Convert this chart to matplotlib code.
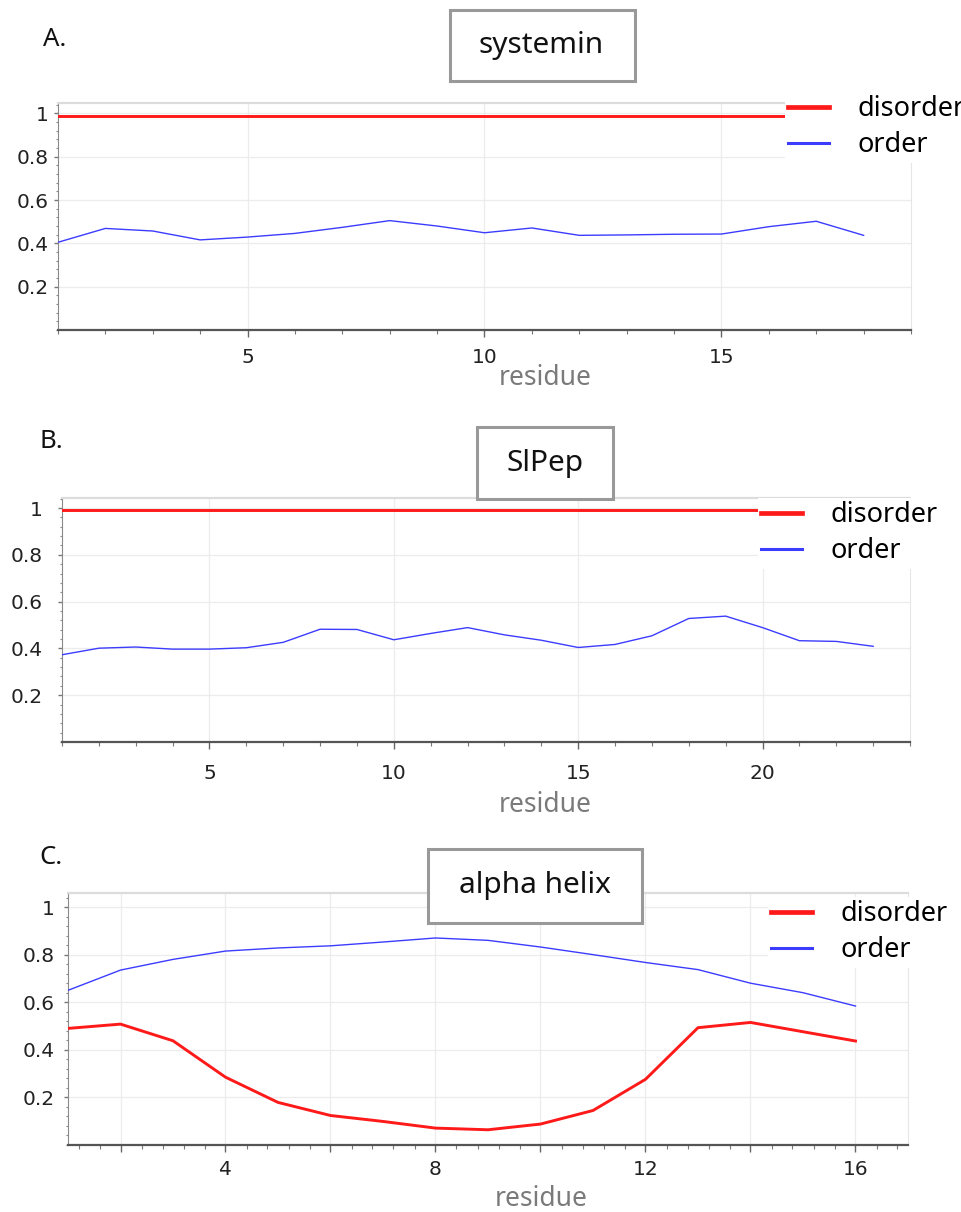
import matplotlib
matplotlib.use("Agg")
import matplotlib.pyplot as plt
import matplotlib.patches as mpatches
from matplotlib.lines import Line2D
from matplotlib.ticker import MultipleLocator, FuncFormatter

# 數據
sys_residue = [1, 2, 3, 4, 5, 6, 7, 8, 9, 10, 11, 12, 13, 14, 15, 16, 17, 18]
sys_disorder = [0.99, 0.99, 0.99, 0.99, 0.99, 0.99, 0.99, 0.99, 0.99,
                0.99, 0.99, 0.99, 0.99, 0.99, 0.99, 0.99, 0.99, 0.99]
sys_order = [0.405, 0.469, 0.457, 0.416, 0.429, 0.446, 0.474, 0.505, 0.480,
             0.449, 0.471, 0.437, 0.439, 0.442, 0.443, 0.477, 0.502, 0.437]

pep_residue = [1, 2, 3, 4, 5, 6, 7, 8, 9, 10, 11, 12, 13, 14, 15, 16, 17, 18,
               19, 20, 21, 22, 23]
pep_disorder = [0.99, 0.99, 0.99, 0.99, 0.99, 0.99, 0.99, 0.99, 0.99, 0.99,
                0.99, 0.99, 0.99, 0.99, 0.99, 0.99, 0.99, 0.99, 0.99, 0.99,
                0.99, 0.99, 0.99]
pep_order = [0.373, 0.401, 0.406, 0.397, 0.397, 0.403, 0.426, 0.482, 0.481,
             0.437, 0.464, 0.489, 0.458, 0.435, 0.404, 0.417, 0.454, 0.528,
             0.538, 0.489, 0.433, 0.430, 0.409]

helix_residue = [1, 2, 3, 4, 5, 6, 7, 8, 9, 10, 11, 12, 13, 14, 15, 16]
helix_disorder = [0.490, 0.508, 0.438, 0.285, 0.179, 0.124, 0.099, 0.071,
                  0.064, 0.088, 0.145, 0.276, 0.493, 0.515, 0.476, 0.437]
helix_order = [0.650, 0.735, 0.780, 0.815, 0.828, 0.837, 0.853, 0.870,
               0.860, 0.832, 0.800, 0.767, 0.737, 0.680, 0.640, 0.584]

series_labels = ['disorder', 'order']
y_ticks = [0.2, 0.4, 0.6, 0.8, 1.0]

RED = '#ff1a1a'
BLUE = '#3c3cff'
W, H = 962, 1212

plt.rcParams['font.family'] = ['Noto Sans', 'DejaVu Sans']


def px_rect(l, t, r, b):
    return [l / W, 1 - b / H, (r - l) / W, (b - t) / H]


def px_pt(x, y):
    return x / W, 1 - y / H


fig = plt.figure(figsize=(W / 100, H / 100), dpi=100)

panels = [
    dict(x=sys_residue, dis=sys_disorder, order=sys_order, letter='A.',
         title='systemin', rect=(58, 103, 911, 330), xlim=(1, 19), ytop=1.048,
         major=5, label_every=5, minor=1, xpad=8, ypad=4,
         letter_xy=(43, 40), box=(450, 10, 635, 81), text_xy=(541, 46),
         xlabel_xy=(545, 378), legend_xy=(785, 92)),
    dict(x=pep_residue, dis=pep_disorder, order=pep_order, letter='B.',
         title='SlPep', rect=(62, 498, 910, 742), xlim=(1, 24), ytop=1.043,
         major=5, label_every=5, minor=1, xpad=10.5, ypad=11,
         letter_xy=(39, 442), box=(477, 427, 613, 499), text_xy=(545, 463),
         xlabel_xy=(545, 805), legend_xy=(758, 498)),
    dict(x=helix_residue, dis=helix_disorder, order=helix_order, letter='C.',
         title='alpha helix', rect=(68, 893, 908, 1145), xlim=(1, 17), ytop=1.059,
         major=2, label_every=4, minor=0.4, xpad=6, ypad=6.5,
         letter_xy=(39, 858), box=(428, 849, 642, 923), text_xy=(535, 886),
         xlabel_xy=(541, 1199), legend_xy=(768, 897)),
]

for p in panels:
    ax = fig.add_axes(px_rect(*p['rect']))
    ax.plot(p['x'], p['dis'], color=RED, lw=2.1, zorder=3)
    ax.plot(p['x'], p['order'], color=BLUE, lw=1.0, zorder=3)

    ax.set_xlim(*p['xlim'])
    ax.set_ylim(0, p['ytop'])

    every = p['label_every']
    ax.xaxis.set_major_locator(MultipleLocator(p['major']))
    ax.xaxis.set_minor_locator(MultipleLocator(p['minor']))
    ax.xaxis.set_major_formatter(FuncFormatter(
        lambda v, pos, e=every: f'{v:g}' if abs(v / e - round(v / e)) < 1e-6 and v > 1 else ''))
    ax.set_yticks(y_ticks)
    ax.yaxis.set_major_formatter(FuncFormatter(lambda v, pos: f'{v:g}'))
    ax.yaxis.set_minor_locator(MultipleLocator(0.04))

    ax.tick_params(axis='x', which='major', direction='out', length=5, width=1,
                   color='#666666', labelsize=14.5, pad=p['xpad'])
    ax.tick_params(axis='x', which='minor', direction='out', length=3, width=0.8,
                   color='#777777')
    ax.tick_params(axis='y', which='major', direction='out', length=3, width=1,
                   color='#777777', labelsize=14.5, pad=p['ypad'])
    ax.tick_params(axis='y', which='minor', direction='out', length=1.5, width=0.8,
                   color='#888888')
    for lab in ax.get_xticklabels() + ax.get_yticklabels():
        lab.set_family('DejaVu Sans')
        lab.set_color('#222222')

    ax.grid(True, which='major', color='#ececec', lw=0.9)
    ax.set_axisbelow(True)
    ax.spines['left'].set_color('#8a8a8a')
    ax.spines['left'].set_linestyle((0, (2, 1)))
    ax.spines['bottom'].set_color('#555555')
    ax.spines['bottom'].set_linewidth(1.6)
    ax.spines['top'].set_color('#dcdcdc')
    ax.spines['top'].set_linewidth(1.6)
    ax.spines['right'].set_color('#e6e6e6')

    # x 軸標題
    ax.set_xlabel('residue', fontsize=19, color='#7a7a7a')
    l, t, r, b = p['rect']
    lx, ly = p['xlabel_xy']
    ax.xaxis.set_label_coords((lx - l) / (r - l), (b - ly) / (b - t))
    ax.xaxis.label.set_va('center')

    # 圖例
    handles = [Line2D([], [], color=RED, lw=3.4), Line2D([], [], color=BLUE, lw=2.2)]
    ax.legend(handles, series_labels, loc='upper left',
              bbox_to_anchor=px_pt(*p['legend_xy']), bbox_transform=fig.transFigure,
              frameon=True, fancybox=False, edgecolor='none', facecolor='white',
              framealpha=1, fontsize=19.5, handlelength=1.5, handletextpad=1.05,
              labelspacing=0.3, borderpad=0.12, borderaxespad=0)

    # 標題框
    bl, bt, br, bb = p['box']
    fig.patches.append(mpatches.Rectangle(
        px_pt(bl, bb), (br - bl) / W, (bb - bt) / H, transform=fig.transFigure,
        facecolor='white', edgecolor='#999999', lw=2.2, zorder=10))
    fig.text(*px_pt(*p['text_xy']), p['title'], ha='center', va='center',
             fontsize=21.5, color='#111111', zorder=11)
    fig.text(*px_pt(*p['letter_xy']), p['letter'], ha='left', va='center',
             fontsize=18.5, color='#111111')

fig.savefig('out.png', dpi=100)
